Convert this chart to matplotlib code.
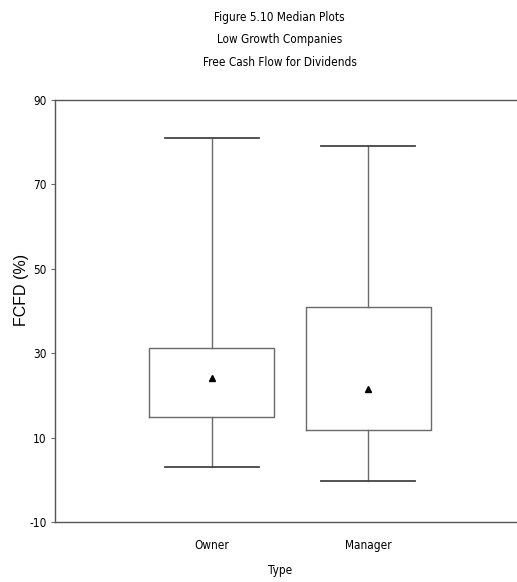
import matplotlib
matplotlib.use('Agg')
import matplotlib.pyplot as plt

# values
types = ['Owner', 'Manager']
whislo = [3.0, -0.3]
q1 = [14.9, 11.8]
q3 = [31.2, 41.0]
whishi = [81.0, 79.1]
centre = [24.1, 21.5]   # triangle marker
yticks = [-10, 10, 30, 50, 70, 90]

narrow = dict(family='DejaVu Sans', stretch='condensed')
gray = '#6a6a6a'

fig = plt.figure(figsize=(5.17, 5.82), dpi=100)
ax = fig.add_axes([55 / 517, 1 - 522 / 582, 470 / 517, 422 / 582])

stats = []
for i in range(len(types)):
    stats.append(dict(label=types[i], whislo=whislo[i], q1=q1[i], med=centre[i],
                      q3=q3[i], whishi=whishi[i], mean=centre[i], fliers=[]))

ax.bxp(stats, positions=[1, 2], widths=0.8, showmeans=True, showfliers=False,
       boxprops=dict(color=gray, linewidth=1.0),
       whiskerprops=dict(color=gray, linewidth=1.0),
       capprops=dict(color='#444444', linewidth=1.3),
       capwidths=0.6,
       medianprops=dict(visible=False),
       meanprops=dict(marker='^', markerfacecolor='black', markeredgecolor='black',
                      markersize=5))

ax.set_xlim(0, 3)
ax.set_ylim(-10, 90)
ax.set_yticks(yticks)
ax.set_yticklabels([str(t) for t in yticks], fontsize=8.5, **narrow)
ax.set_xticks([1, 2])
ax.set_xticklabels(types, fontsize=8.5, **narrow)
ax.tick_params(axis='x', length=0, pad=12)
ax.tick_params(axis='y', length=3, color=gray, pad=3)

for s in ['top', 'bottom', 'left']:
    ax.spines[s].set_color('#555555')
    ax.spines[s].set_linewidth(1.0)
ax.spines['right'].set_visible(False)

ax.set_ylabel('FCFD (%)', family=['Liberation Sans', 'DejaVu Sans'], fontsize=11.5)
ax.yaxis.set_label_coords(-0.055, 0.55)
ax.set_xlabel('Type', fontsize=8.5, **narrow)
ax.xaxis.set_label_coords(0.48, -0.1)

fig.text(0.541, 1 - 18 / 582, 'Figure 5.10 Median Plots',
         fontsize=8.5, ha='center', va='center', **narrow)
fig.text(0.541, 1 - 40 / 582, 'Low Growth Companies',
         fontsize=8.5, ha='center', va='center', **narrow)
fig.text(0.541, 1 - 62 / 582, 'Free Cash Flow for Dividends',
         fontsize=8.5, ha='center', va='center', **narrow)

fig.savefig('out.png', dpi=100)
